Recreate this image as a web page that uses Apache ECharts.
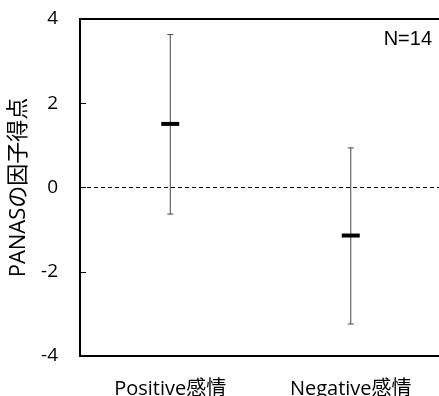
<!DOCTYPE html>
<html>
<head>
<meta charset="utf-8">
<script src="https://cdn.jsdelivr.net/npm/echarts@6/dist/echarts.min.js"></script>
<style>
  html, body { margin: 0; padding: 0; background: #fff; }
  #chart { width: 439px; height: 396px; }
</style>
</head>
<body>
<div id="chart"></div>
<script>
// PANAS 因子得点（平均と範囲）
const categories = ['Positive感情', 'Negative感情'];
const means = [1.51, -1.14];
const upper = [3.63, 0.94];
const lower = [-0.63, -3.24];
const yTicks = [-4, -2, 0, 2, 4];

const chart = echarts.init(document.getElementById('chart'));
const font = '"Open Sans", "Noto Sans CJK JP", sans-serif';

const errData = categories.map((c, i) => [i, lower[i], upper[i]]);

const option = {
  animation: false,
  grid: {
    left: 80, right: -2, top: 19, bottom: 40,
    outerBoundsMode: 'none',
    containLabel: false,
    show: true, borderColor: '#000', borderWidth: 2
  },
  xAxis: {
    type: 'category',
    data: categories,
    axisLine: { onZero: false, lineStyle: { color: '#000', width: 2 } },
    axisTick: { inside: true, alignWithLabel: true, length: 7, lineStyle: { color: '#000', width: 1 } },
    axisLabel: { color: '#000', fontSize: 20, fontFamily: font, margin: 23 }
  },
  yAxis: {
    type: 'value',
    min: yTicks[0], max: yTicks[yTicks.length - 1], interval: 2,
    name: 'PANASの因子得点',
    nameLocation: 'middle',
    nameGap: 48,
    nameTextStyle: { color: '#000', fontSize: 22, fontFamily: font },
    splitLine: { show: false },
    axisLine: { show: true, lineStyle: { color: '#000', width: 2 } },
    axisTick: { show: true, inside: true, length: 6, lineStyle: { color: '#000', width: 1 } },
    axisLabel: { color: '#000', fontSize: 19, fontFamily: font, margin: 22 }
  },
  graphic: [{
    type: 'text', right: 7, top: 29,
    style: { text: 'N=14', fill: '#000', fontSize: 20, fontFamily: '"Liberation Sans", Arial, sans-serif' }
  }],
  series: [
    {
      type: 'custom',
      data: errData,
      renderItem: function (params, api) {
        const x = api.value(0);
        const lo = api.coord([x, api.value(1)]);
        const hi = api.coord([x, api.value(2)]);
        const cap = 3;
        const style = { stroke: '#444', lineWidth: 1 };
        return {
          type: 'group',
          children: [
            { type: 'line', shape: { x1: lo[0], y1: lo[1], x2: hi[0], y2: hi[1] }, style: style },
            { type: 'line', shape: { x1: hi[0] - cap, y1: hi[1], x2: hi[0] + cap, y2: hi[1] }, style: style },
            { type: 'line', shape: { x1: lo[0] - cap, y1: lo[1], x2: lo[0] + cap, y2: lo[1] }, style: style }
          ]
        };
      },
      markLine: {
        silent: true,
        symbol: ['none', 'none'],
        label: { show: false },
        lineStyle: { color: '#000', type: [4, 3], width: 1 },
        data: [{ yAxis: 0 }]
      },
      z: 2
    },
    {
      type: 'scatter',
      data: means,
      symbol: 'rect',
      symbolSize: [18, 4],
      itemStyle: { color: '#000', opacity: 1 },
      z: 3
    }
  ]
};
chart.setOption(option);
</script>
</body>
</html>
